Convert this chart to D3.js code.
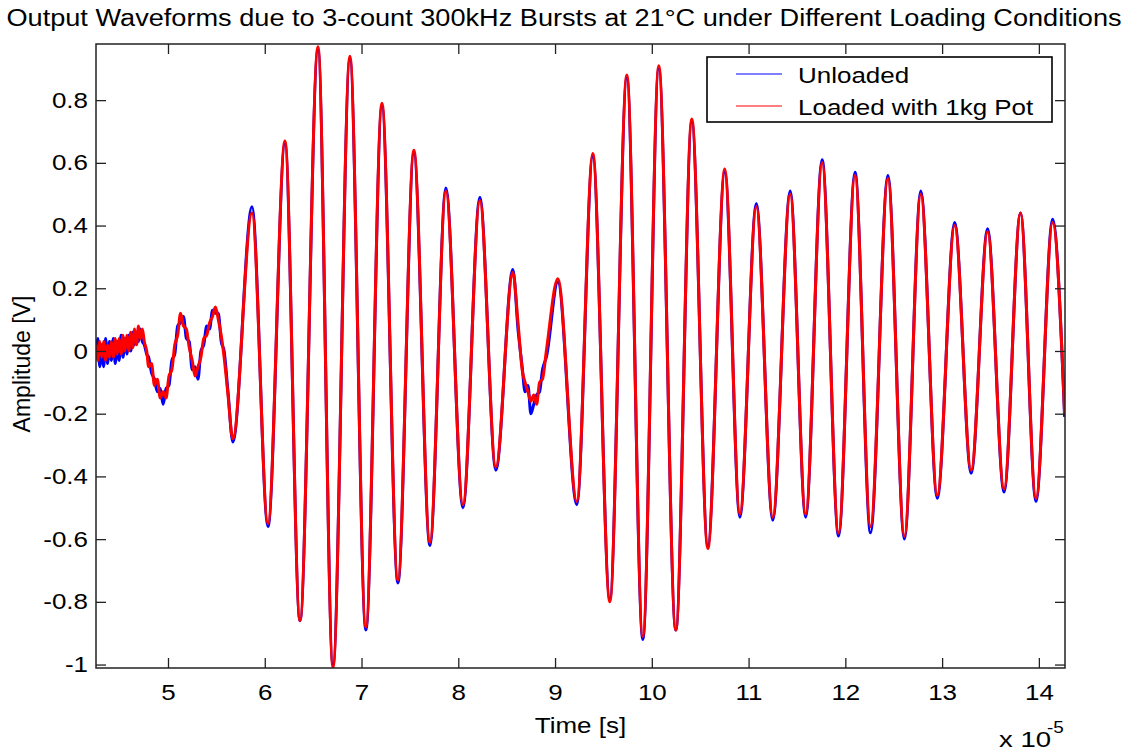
<!DOCTYPE html>
<html>
<head>
<meta charset="utf-8">
<script src="https://cdn.jsdelivr.net/npm/d3@7"></script>
<style>
  html, body { margin: 0; padding: 0; background: #fff; }
  svg { display: block; font-family: "Liberation Sans", Arial, sans-serif; }
</style>
</head>
<body>
<svg id="chart" width="1127" height="753"></svg>
<script>
// ---- data (time in units of 1e-5 s, amplitude in V) ----
const timeSamples = [
  4.256, 4.275, 4.295, 4.315, 4.335, 4.355, 4.375, 4.395, 4.415, 4.435, 4.455, 4.475, 4.495,
  4.515, 4.535, 4.555, 4.575, 4.595, 4.615, 4.635, 4.655, 4.675, 4.695, 4.715, 4.735, 4.755,
  4.78, 4.80, 4.83, 4.86, 4.89, 4.92, 4.95, 4.98, 5.01, 5.04, 5.07, 5.10, 5.13, 5.16, 5.19,
  5.22, 5.25, 5.28, 5.31, 5.34, 5.37, 5.40, 5.43, 5.46, 5.49, 5.52, 5.55, 5.58, 5.62, 5.67,
  5.868, 6.033, 6.209, 6.364, 6.550, 6.705, 6.880, 7.045, 7.211, 7.376, 7.541, 7.707,
  7.872, 8.048, 8.223, 8.388, 8.564, 8.62, 8.66, 8.69, 8.72, 8.75, 8.78, 8.81, 8.84, 8.87,
  8.91, 9.029, 9.225, 9.39, 9.566,
  9.742, 9.907, 10.072, 10.248, 10.413, 10.579, 10.754, 10.91, 11.08, 11.25, 11.43,
  11.59, 11.76, 11.93, 12.10, 12.26, 12.44, 12.61, 12.78, 12.95, 13.13, 13.30, 13.47,
  13.64, 13.81, 13.97, 14.142, 14.266
];
const ampUnloaded = [
  -0.01, 0.04, -0.05, 0.02, -0.05, 0.04, -0.04, 0.03, -0.03, 0.04, -0.04, 0.03, -0.03,
  0.05, -0.02, 0.04, -0.01, 0.05, 0.00, 0.06, 0.02, 0.06, 0.03, 0.07, 0.03, 0.02,
  -0.01, -0.02, -0.07, -0.09, -0.13, -0.12, -0.17, -0.12, -0.11, -0.03, -0.01, 0.08, 0.09, 0.11, 0.04,
  0.03, -0.06, -0.05, -0.09, 0.00, 0.02, 0.08, 0.07, 0.13, 0.12, 0.12, 0.03, 0.00, -0.13, -0.29,
  0.46, -0.56, 0.66, -0.86, 0.96, -1.00, 0.93, -0.89, 0.78, -0.74, 0.63, -0.62,
  0.52, -0.50, 0.49, -0.38, 0.26, 0.06, -0.05, -0.13, -0.11, -0.20, -0.17, -0.14, -0.13, -0.06,
  -0.02, 0.22, -0.49, 0.62, -0.79,
  0.87, -0.92, 0.90, -0.89, 0.73, -0.62, 0.57, -0.53, 0.47, -0.54, 0.51,
  -0.53, 0.61, -0.59, 0.57, -0.58, 0.56, -0.60, 0.51, -0.47, 0.41, -0.39, 0.39,
  -0.45, 0.44, -0.48, 0.42, -0.21
];
const ampLoaded = [
  0.02, -0.03, 0.03, -0.02, 0.03, -0.03, 0.02, -0.02, 0.03, -0.02, 0.04, -0.01, 0.04,
  -0.01, 0.05, 0.00, 0.05, 0.00, 0.06, 0.01, 0.07, 0.02, 0.08, 0.04, 0.07, 0.03,
  0.00, -0.05, -0.04, -0.11, -0.09, -0.15, -0.13, -0.15, -0.08, -0.06, 0.02, 0.05, 0.12, 0.08, 0.07,
  0.01, -0.03, -0.08, -0.05, -0.02, 0.04, 0.05, 0.09, 0.11, 0.14, 0.10, 0.05, -0.02, -0.14, -0.28,
  0.44, -0.55, 0.67, -0.86, 0.97, -1.01, 0.94, -0.88, 0.79, -0.73, 0.64, -0.61,
  0.51, -0.49, 0.48, -0.37, 0.25, 0.08, -0.06, -0.10, -0.13, -0.16, -0.14, -0.17, -0.10, -0.09,
  0.00, 0.23, -0.48, 0.63, -0.80,
  0.88, -0.91, 0.91, -0.89, 0.74, -0.63, 0.58, -0.52, 0.46, -0.53, 0.50,
  -0.52, 0.60, -0.58, 0.56, -0.56, 0.55, -0.59, 0.50, -0.46, 0.40, -0.38, 0.38,
  -0.44, 0.44, -0.47, 0.41, -0.20
];
const seriesNames = ["Unloaded", "Loaded with 1kg Pot"];
const xTicks = [5, 6, 7, 8, 9, 10, 11, 12, 13, 14];
const yTicks = [-1, -0.8, -0.6, -0.4, -0.2, 0, 0.2, 0.4, 0.6, 0.8];
const titleText = "Output Waveforms due to 3-count 300kHz Bursts at 21\u00B0C under Different Loading Conditions";
const xLabelText = "Time [s]";
const yLabelText = "Amplitude [V]";

// ---- layout ----
const svg = d3.select("#chart");
const L = 96, R = 1065, T = 44, B = 668;
const x = d3.scaleLinear().domain([4.256, 14.27]).range([L, R]);
const y = d3.scaleLinear().domain([-1.011, 0.979]).range([B, T]);
const fs = 22;
const SX = 1.18; // horizontal glyph stretch seen in the reference

function stretch(sel, k) {
  sel.each(function () {
    const w = this.getComputedTextLength();
    d3.select(this).attr("textLength", w * k).attr("lengthAdjust", "spacingAndGlyphs");
  });
}

const clipId = "plotclip";
svg.append("defs").append("clipPath").attr("id", clipId)
  .append("rect").attr("x", L).attr("y", T).attr("width", R - L).attr("height", B - T);

const line = (vals) => d3.line()
  .x((d, i) => x(timeSamples[i]))
  .y(d => y(d))
  .curve(d3.curveMonotoneX)(vals);

const plot = svg.append("g").attr("clip-path", `url(#${clipId})`);
plot.append("path").attr("d", line(ampUnloaded))
  .attr("fill", "none").attr("stroke", "#0000ff").attr("stroke-width", 3);
plot.append("path").attr("d", line(ampLoaded))
  .attr("fill", "none").attr("stroke", "#ff0000").attr("stroke-width", 3);

// axes (MATLAB style, ticks inside on all four sides)
const fmtY = d => String(+d.toFixed(1));
const axB = svg.append("g").attr("transform", `translate(0,${B})`)
  .call(d3.axisBottom(x).tickValues(xTicks).tickSize(-10).tickPadding(16).tickFormat(d3.format("d")));
const axT = svg.append("g").attr("transform", `translate(0,${T})`)
  .call(d3.axisTop(x).tickValues(xTicks).tickSize(-10).tickFormat(""));
const axLft = svg.append("g").attr("transform", `translate(${L},0)`)
  .call(d3.axisLeft(y).tickValues(yTicks).tickSize(-10).tickPadding(8).tickFormat(fmtY));
const axRt = svg.append("g").attr("transform", `translate(${R},0)`)
  .call(d3.axisRight(y).tickValues(yTicks).tickSize(-10).tickFormat(""));
[axB, axT, axLft, axRt].forEach(g => {
  g.select(".domain").remove();
  g.selectAll(".tick line").attr("stroke", "#222").attr("stroke-width", 1.3);
  g.selectAll(".tick text").attr("fill", "#000")
    .style("font-family", "Liberation Sans, Arial, sans-serif").style("font-size", fs + "px")
    .call(stretch, SX);
});
svg.append("rect").attr("x", L).attr("y", T).attr("width", R - L).attr("height", B - T)
  .attr("fill", "none").attr("stroke", "#222").attr("stroke-width", 1.5);

// title & labels
svg.append("text").attr("x", 564).attr("y", 26).attr("text-anchor", "middle")
  .style("font-size", "23px").text(titleText).call(stretch, SX);
svg.append("text").attr("x", (L + R) / 2).attr("y", 733).attr("text-anchor", "middle")
  .style("font-size", fs + "px").text(xLabelText).call(stretch, SX);
svg.append("text").attr("transform", `translate(30,${(T + B) / 2 + 8}) rotate(-90)`)
  .attr("text-anchor", "middle").style("font-size", "23px").text(yLabelText);
svg.append("text").attr("x", 999).attr("y", 747).style("font-size", fs + "px")
  .text("x 10").call(stretch, 1.25);
svg.append("text").attr("x", 1047).attr("y", 733).style("font-size", "16px")
  .text("-5").call(stretch, SX);

// legend
const lg = svg.append("g");
lg.append("rect").attr("x", 707).attr("y", 57).attr("width", 345).attr("height", 65)
  .attr("fill", "#fff").attr("stroke", "#000").attr("stroke-width", 1.6);
const legColors = ["#0000ff", "#ff0000"];
seriesNames.forEach((name, i) => {
  const yy = 74 + i * 32;
  lg.append("line").attr("x1", 736).attr("x2", 782).attr("y1", yy).attr("y2", yy)
    .attr("stroke", legColors[i]).attr("stroke-width", 1.2);
  lg.append("text").attr("x", 798).attr("y", yy + 9).style("font-size", fs + "px")
    .text(name).call(stretch, SX);
});
</script>
</body>
</html>
